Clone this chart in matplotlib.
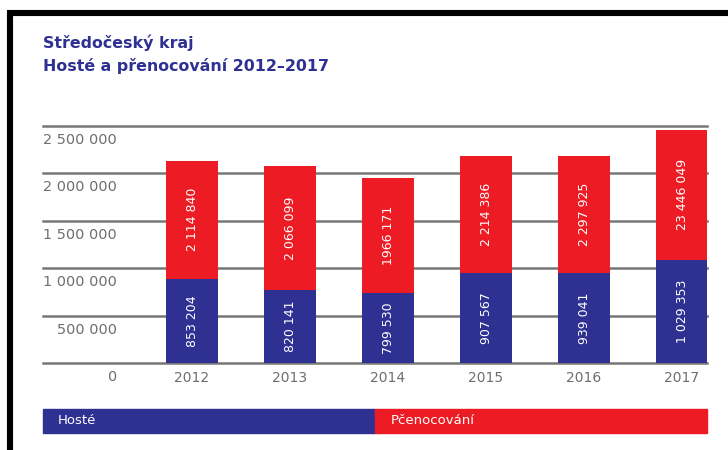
import matplotlib
matplotlib.use("Agg")
import matplotlib.pyplot as plt
import matplotlib.transforms as mtransforms
from matplotlib.lines import Line2D
from matplotlib.patches import Rectangle

# data (bar heights as drawn, labels as printed)
years = ["2012", "2013", "2014", "2015", "2016", "2017"]
hoste = [890000, 766000, 734000, 950000, 950000, 1088000]
prenocovani = [2132000, 2079000, 1956000, 2185000, 2185000, 2461000]
hoste_labels = ["853 204", "820 141", "799 530", "907 567", "939 041", "1 029 353"]
prenoc_labels = ["2 114 840", "2 066 099", "1966 171", "2 214 386", "2 297 925", "23 446 049"]
yticks = [0, 500000, 1000000, 1500000, 2000000, 2500000]
ytick_labels = ["0", "500 000", "1 000 000", "1 500 000", "2 000 000", "2 500 000"]

blue = "#2e3192"
red = "#ed1c24"
gray = "#6d6e71"
W, H = 728, 450

fig = plt.figure(figsize=(W / 100, H / 100), dpi=100)
plt.rcParams['font.family'] = ['DejaVu Sans']

# frame on the left and top (black)
fig.add_artist(Line2D([7 / W, 1], [1 - 13 / H, 1 - 13 / H], color="black", lw=4.4,
                      transform=fig.transFigure, solid_capstyle="butt"))
fig.add_artist(Line2D([10 / W, 10 / W], [1 - 10 / H, 0], color="black", lw=4.4,
                      transform=fig.transFigure, solid_capstyle="butt"))

# titles
fig.text(43 / W, 1 - 43 / H, "Středočeský kraj", color=blue, fontsize=11.4,
         fontweight="bold", va="center", ha="left")
fig.text(43 / W, 1 - 66 / H, "Hosté a přenocování 2012–2017", color=blue, fontsize=11.4,
         fontweight="bold", va="center", ha="left")

# axes placed so that x=43..707 px and y=126..363 px
ax = fig.add_axes([43 / W, (H - 363) / H, 664 / W, 237 / H])
ax.set_xlim(-149 / 98, -149 / 98 + 664 / 98)
ax.set_ylim(0, 2500000)
ax.axis("off")

x = list(range(len(years)))
ax.bar(x, prenocovani, width=0.53, color=red, zorder=3)
ax.bar(x, hoste, width=0.53, color=blue, zorder=4)

# grid lines
for t in yticks:
    ax.axhline(t, color="#777777", lw=1.8, zorder=1, clip_on=False)

# y tick labels below each line
off = mtransforms.offset_copy(ax.get_yaxis_transform(), fig=fig, x=0, y=-14, units="dots")
for t, lab in zip(yticks, ytick_labels):
    ax.text(74 / 664, t, lab, transform=off, ha="right", va="center",
            fontsize=10.4, color=gray)

# year labels
off_x = mtransforms.offset_copy(ax.get_xaxis_transform(), fig=fig, x=0, y=-15, units="dots")
for i, y in enumerate(years):
    ax.text(i, 0, y, transform=off_x, ha="center", va="center", fontsize=10, color=gray)

# values inside bars
for i in x:
    ax.text(i, hoste[i] / 2, hoste_labels[i], rotation=90, ha="center", va="center",
            color="white", fontsize=9, zorder=5)
    ax.text(i, (hoste[i] + prenocovani[i]) / 2, prenoc_labels[i], rotation=90,
            ha="center", va="center", color="white", fontsize=9, zorder=5)

# legend strip at the bottom
fig.add_artist(Rectangle((43 / W, 1 - 433 / H), 332 / W, 24 / H, color=blue,
                         transform=fig.transFigure))
fig.add_artist(Rectangle((375 / W, 1 - 433 / H), 332 / W, 24 / H, color=red,
                         transform=fig.transFigure))
fig.text(58 / W, 1 - 421 / H, "Hosté", color="white", fontsize=9.5, va="center")
fig.text(391 / W, 1 - 421 / H, "Pčenocování", color="white", fontsize=9.5, va="center")

fig.savefig("out.png", dpi=100)
